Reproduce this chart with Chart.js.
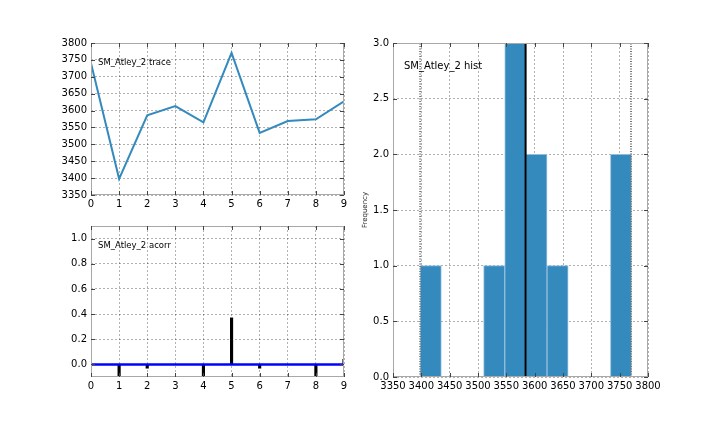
<!DOCTYPE html>
<html><head><meta charset="utf-8">
<script src="https://cdn.jsdelivr.net/npm/chart.js@4/dist/chart.umd.min.js"></script>
<style>
body{margin:0;background:#fff;width:720px;height:432px;overflow:hidden;position:relative;}
.box{position:absolute;}
</style></head><body>
<div class="box" style="left:51px;top:30px;width:308px;height:185px"><canvas id="c1"></canvas></div>
<div class="box" style="left:51px;top:213px;width:308px;height:184px"><canvas id="c2"></canvas></div>
<div class="box" style="left:355px;top:30px;width:308px;height:367px"><canvas id="c3"></canvas></div>
<script>
// ---- data ----
const traceIter = [0,1,2,3,4,5,6,7,8,9];
const traceValues = [3740,3398,3586,3613,3565,3771,3534,3569,3574,3627];
const traceYTicks = [3350,3400,3450,3500,3550,3600,3650,3700,3750,3800];
const iterTicks = [0,1,2,3,4,5,6,7,8,9];

const acorrLags = [1,2,3,4,5,6,7,8,9];
const acorrValues = [-0.11,-0.03,0,-0.11,0.37,-0.03,0,-0.11,0.04];
const acorrYTicks = [0.0,0.2,0.4,0.6,0.8,1.0];

const histBinEdges = [3398,3435.3,3472.6,3509.9,3547.2,3584.5,3621.8,3659.1,3696.4,3733.7,3771];
const histCounts = [1,0,0,1,3,2,1,0,0,2];
const histXTicks = [3350,3400,3450,3500,3550,3600,3650,3700,3750,3800];
const histYTicks = [0.0,0.5,1.0,1.5,2.0,2.5,3.0];
const histCentralLine = 3584;
const histIntervalLines = [3398,3770];

// ---- helpers ----
const FONT = 'DejaVu Sans';
Chart.defaults.font.family = FONT;
Chart.defaults.color = '#000';
Chart.defaults.animation = false;

const decoPlugin = {
  id: 'deco',
  afterDraw(chart, args, opts) {
    const ctx = chart.ctx, a = chart.chartArea;
    ctx.save();
    ctx.strokeStyle = '#a8a8a8';
    ctx.lineWidth = 1;
    ctx.setLineDash([]);
    ctx.strokeRect(Math.round(a.left)+0.5, Math.round(a.top)+0.5, Math.round(a.right-a.left)-1, Math.round(a.bottom-a.top)-1);
    ctx.strokeStyle = '#444';
    ctx.beginPath();
    const xs = chart.scales.x, ys = chart.scales.y;
    xs.ticks.forEach((t,i)=>{
      const p = Math.round(xs.getPixelForTick(i))+0.5;
      ctx.moveTo(p,a.bottom); ctx.lineTo(p,a.bottom-4);
      ctx.moveTo(p,a.top); ctx.lineTo(p,a.top+4);
    });
    ys.ticks.forEach((t,i)=>{
      const p = Math.round(ys.getPixelForTick(i))+0.5;
      ctx.moveTo(a.left,p); ctx.lineTo(a.left+4,p);
      ctx.moveTo(a.right,p); ctx.lineTo(a.right-4,p);
    });
    ctx.stroke();
    if (opts.text) {
      ctx.fillStyle = '#000';
      ctx.font = opts.size + 'px "' + FONT + '"';
      ctx.textBaseline = 'middle';
      ctx.textAlign = 'left';
      ctx.fillText(opts.text, a.left + opts.dx, a.top + opts.dy);
    }
    ctx.restore();
  }
};
Chart.register(decoPlugin);

function setTicks(list){ return function(s){ s.ticks = list.map(v=>({value:v})); }; }
function noPad(s){ s.paddingTop=0; s.paddingBottom=0; s.paddingLeft=0; s.paddingRight=0; }
function gridOpts(){ return {color:'rgba(0,0,0,0.3)', lineWidth:1, drawTicks:false, tickLength:0, offset:false}; }
function xAxis(min,max,list,fmt){
  return {type:'linear', min, max, offset:false, z:1, afterBuildTicks:setTicks(list), afterFit(s){s.height=20; noPad(s);},
    grid:gridOpts(), border:{display:false, dash:[2,2]},
    ticks:{font:{size:10}, padding:3, maxRotation:0, minRotation:0, autoSkip:false, callback:fmt}};
}
function yAxis(min,max,list,fmt,w){
  return {type:'linear', min, max, z:1, afterBuildTicks:setTicks(list), afterFit(s){s.width=w; noPad(s);},
    grid:gridOpts(), border:{display:false, dash:[2,2]},
    ticks:{font:{size:10}, padding:4, autoSkip:false, callback:fmt}};
}
const pad = {top:13,right:15,left:0,bottom:0};

// ---- trace ----
new Chart(document.getElementById('c1'), {
  type:'line',
  data:{datasets:[{data:traceIter.map((x,i)=>({x, y:traceValues[i]})), borderColor:'#348ABD', borderWidth:2, pointRadius:0, tension:0, fill:false}]},
  options:{responsive:true, maintainAspectRatio:false, layout:{padding:pad},
    plugins:{legend:{display:false}, tooltip:{enabled:false}, deco:{text:'SM_Atley_2 trace', size:8.5, dx:7, dy:20}},
    scales:{x:xAxis(0,9,iterTicks,v=>String(v)), y:yAxis(3350,3800,traceYTicks,v=>String(v),40)}}
});

// ---- acorr ----
new Chart(document.getElementById('c2'), {
  type:'bar',
  data:{datasets:[
    {type:'line', data:[{x:0,y:0},{x:9,y:0}], borderColor:'#0000ff', borderWidth:2.5, pointRadius:0, order:0},
    {type:'bar', data:acorrLags.map((x,i)=>({x, y:acorrValues[i]})), backgroundColor:'#000', barThickness:2.5, order:1}
  ]},
  options:{responsive:true, maintainAspectRatio:false, layout:{padding:pad},
    plugins:{legend:{display:false}, tooltip:{enabled:false}, deco:{text:'SM_Atley_2 acorr', size:8.5, dx:7, dy:20}},
    scales:{x:xAxis(0,9,iterTicks,v=>String(v)), y:yAxis(-0.1,1.1,acorrYTicks,v=>Number(v).toFixed(1),40)}}
});

// ---- hist ----
const histData = histCounts.map((c,i)=>({x:(histBinEdges[i]+histBinEdges[i+1])/2, y:c}));
const y3 = yAxis(0,3,histYTicks,v=>Number(v).toFixed(1),38);
y3.title = {display:true, text:'Frequency', font:{size:7}, padding:{top:6,bottom:0}, color:'#222'};
new Chart(document.getElementById('c3'), {
  type:'bar',
  data:{datasets:[
    {type:'bar', data:histData, backgroundColor:'#348ABD', borderColor:'rgba(140,185,220,0.9)', borderWidth:1, barPercentage:1, categoryPercentage:1, order:3},
    {type:'line', data:[{x:histCentralLine,y:0},{x:histCentralLine,y:3}], borderColor:'#000', borderWidth:2, pointRadius:0, order:1},
    {type:'line', data:[{x:histIntervalLines[0],y:0},{x:histIntervalLines[0],y:3}], borderColor:'#777', borderWidth:2, borderDash:[1,1.5], pointRadius:0, order:2},
    {type:'line', data:[{x:histIntervalLines[1],y:0},{x:histIntervalLines[1],y:3}], borderColor:'#777', borderWidth:2, borderDash:[1,1.5], pointRadius:0, order:2}
  ]},
  options:{responsive:true, maintainAspectRatio:false, layout:{padding:pad},
    plugins:{legend:{display:false}, tooltip:{enabled:false}, deco:{text:'SM_Atley_2 hist', size:10, dx:11, dy:23}},
    scales:{x:xAxis(3350,3800,histXTicks,v=>String(v)), y:y3}}
});
</script>
</body></html>
